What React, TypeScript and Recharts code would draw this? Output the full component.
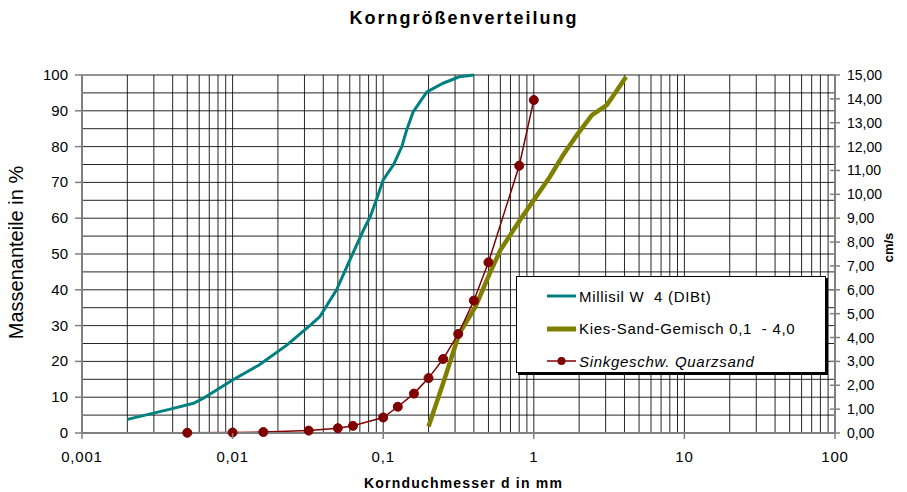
import React from 'react';
import { LineChart, Line, XAxis, YAxis, CartesianGrid, Legend } from 'recharts';

// Korngrößenverteilung – grain size distribution with settling velocity
const millisilD = [0.002, 0.0038, 0.0055, 0.0064, 0.01, 0.015, 0.023, 0.033, 0.038, 0.049, 0.06, 0.074, 0.082, 0.09, 0.1, 0.117, 0.133, 0.143, 0.158, 0.195, 0.25, 0.32, 0.4];
const millisilP = [3.8, 6.6, 8.3, 9.7, 14.8, 19, 24.6, 30.2, 32.5, 40, 48.3, 56.7, 60.4, 65.1, 70.7, 74.9, 80, 84.6, 89.7, 95.3, 97.7, 99.5, 100];

const kiesD = [0.2, 0.25, 0.32, 0.41, 0.51, 0.6, 0.81, 1.02, 1.28, 1.57, 1.93, 2.43, 3.05, 3.46, 4.1];
const kiesP = [1.8, 13.9, 27.8, 35.3, 44.6, 51.1, 59.5, 65.6, 71.6, 77.7, 83.2, 88.8, 91.6, 94.9, 99.5];

const sinkD = [0.005, 0.01, 0.016, 0.032, 0.05, 0.063, 0.1, 0.125, 0.16, 0.2, 0.25, 0.315, 0.4, 0.5, 0.8, 1.0];
const sinkV = [0.01, 0.02, 0.04, 0.1, 0.2, 0.3, 0.65, 1.1, 1.65, 2.3, 3.1, 4.15, 5.55, 7.15, 11.2, 13.95];

const xDecades = [0.001, 0.01, 0.1, 1, 10, 100];
const xTickLabels = ['0,001', '0,01', '0,1', '1', '10', '100'];
const leftTicks = [0, 5, 10, 15, 20, 25, 30, 35, 40, 45, 50, 55, 60, 65, 70, 75, 80, 85, 90, 95, 100];
const rightTicks = [0, 1, 2, 3, 4, 5, 6, 7, 8, 9, 10, 11, 12, 13, 14, 15];

const seriesNames = ['Millisil W  4 (DIBt)', 'Kies-Sand-Gemisch 0,1  - 4,0', 'Sinkgeschw. Quarzsand'];

const millisilData = millisilD.map((d, i) => ({ d, p: millisilP[i] }));
const kiesData = kiesD.map((d, i) => ({ d, p: kiesP[i] }));
const sinkData = sinkD.map((d, i) => ({ d, v: sinkV[i] }));

// all 1..9 multiples of each decade, for the log grid
const xGridTicks = xDecades
  .slice(0, -1)
  .flatMap((dec) => [1, 2, 3, 4, 5, 6, 7, 8, 9].map((m) => m * dec))
  .concat([100]);

const FONT = '"Liberation Sans", Arial, sans-serif';
const AXIS = '#808080';

const XTick = (props: any) => {
  const { x, y, payload } = props;
  const i = xDecades.findIndex((v) => Math.abs(v - payload.value) / v < 1e-6);
  if (i < 0) return null;
  return (
    <g>
      <line x1={x} x2={x} y1={y} y2={y + 6} stroke={AXIS} strokeWidth={1.5} />
      <text x={x} y={y + 29} textAnchor="middle" fontSize={15} letterSpacing={0.8} fontFamily={FONT} fill="#000">
        {xTickLabels[i]}
      </text>
    </g>
  );
};

const LeftTick = (props: any) => {
  const { x, y, payload } = props;
  if (payload.value % 10 !== 0) return null;
  return (
    <g>
      <line x1={x - 7} x2={x} y1={y} y2={y} stroke={AXIS} strokeWidth={1.5} />
      <text x={x - 14} y={y + 5} textAnchor="end" fontSize={15} fontFamily={FONT} fill="#000">
        {payload.value}
      </text>
    </g>
  );
};

const RightTick = (props: any) => {
  const { x, y, payload } = props;
  return (
    <g>
      <line x1={x - 5} x2={x + 5} y1={y} y2={y} stroke={AXIS} strokeWidth={1.5} />
      <text x={x + 12} y={y + 5} textAnchor="start" fontSize={14} fontFamily={FONT} fill="#000">
        {payload.value.toFixed(2).replace('.', ',')}
      </text>
    </g>
  );
};

const LegendBox = () => {
  const rows = [
    { color: '#008080', width: 3, dot: false, italic: false },
    { color: '#808000', width: 5, dot: false, italic: false },
    { color: '#800000', width: 1.5, dot: true, italic: true },
  ];
  return (
    <div
      style={{
        width: 310,
        height: 97,
        background: '#fff',
        border: '1px solid #000',
        boxShadow: '2px 2px 0 #000',
        fontFamily: FONT,
        fontSize: 15,
        letterSpacing: 0.7,
        boxSizing: 'border-box',
        paddingTop: 3,
      }}
    >
      {rows.map((r, i) => (
        <div key={i} style={{ display: 'flex', alignItems: 'center', height: 32.5 }}>
          <svg width={32} height={12} style={{ marginLeft: 29, marginRight: 1 }}>
            <line x1={1} x2={30} y1={6} y2={6} stroke={r.color} strokeWidth={r.width} />
            {r.dot && <circle cx={15.5} cy={6} r={4} fill={r.color} />}
          </svg>
          <span style={{ fontStyle: r.italic ? 'italic' : 'normal', whiteSpace: 'pre' }}>{seriesNames[i]}</span>
        </div>
      ))}
    </div>
  );
};

export default function App() {
  return (
    <div style={{ position: 'relative', width: 899, height: 484, background: '#fff' }}>
      <div
        style={{
          position: 'absolute',
          left: 0,
          width: 912,
          top: 0,
          textAlign: 'center',
          fontFamily: FONT,
          fontWeight: 'bold',
          fontSize: 18,
          letterSpacing: 2,
        }}
      >
        Korngrößenverteilung
      </div>
      <LineChart width={899} height={484} margin={{ top: 67, right: 0, bottom: 0, left: 0 }}>
        <CartesianGrid yAxisId="left" stroke="#000" strokeWidth={1} strokeOpacity={0.85} />
        <XAxis
          dataKey="d"
          type="number"
          scale="log"
          domain={[0.001, 100]}
          allowDataOverflow
          ticks={xGridTicks}
          interval={0}
          height={59}
          tickSize={0}
          tickMargin={0}
          tickLine={false}
          axisLine={{ stroke: AXIS, strokeWidth: 2 }}
          tick={<XTick />}
        />
        <YAxis
          yAxisId="left"
          type="number"
          domain={[0, 100]}
          ticks={leftTicks}
          interval={0}
          width={74}
          tickSize={0}
          tickMargin={0}
          tickLine={false}
          axisLine={{ stroke: AXIS, strokeWidth: 2 }}
          tick={<LeftTick />}
        />
        <YAxis
          yAxisId="right"
          orientation="right"
          type="number"
          domain={[0, 15]}
          ticks={rightTicks}
          interval={0}
          width={72}
          tickSize={0}
          tickMargin={0}
          tickLine={false}
          axisLine={{ stroke: AXIS, strokeWidth: 2 }}
          tick={<RightTick />}
        />
        <Legend
          layout="horizontal"
          verticalAlign="middle"
          align="center"
          wrapperStyle={{ left: 508, top: 268, width: 312 }}
          content={<LegendBox />}
        />
        <Line
          yAxisId="left"
          data={millisilData}
          dataKey="p"
          name={seriesNames[0]}
          type="linear"
          stroke="#008080"
          strokeWidth={3}
          dot={false}
          isAnimationActive={false}
        />
        <Line
          yAxisId="left"
          data={kiesData}
          dataKey="p"
          name={seriesNames[1]}
          type="linear"
          stroke="#808000"
          strokeWidth={4.5}
          dot={false}
          isAnimationActive={false}
        />
        <Line
          yAxisId="right"
          data={sinkData}
          dataKey="v"
          name={seriesNames[2]}
          type="linear"
          stroke="#800000"
          strokeWidth={1.5}
          dot={{ r: 4.5, fill: '#800000', stroke: '#800000', strokeWidth: 1 }}
          isAnimationActive={false}
        />
      </LineChart>
      <div
        style={{
          position: 'absolute',
          left: -92,
          top: 233,
          width: 200,
          textAlign: 'center',
          transform: 'rotate(-90deg)',
          fontFamily: FONT,
          fontSize: 20,
        }}
      >
        Massenanteile in %
      </div>
      <div
        style={{
          position: 'absolute',
          left: 780,
          top: 232,
          width: 200,
          textAlign: 'center',
          transform: 'rotate(-90deg)',
          fontFamily: FONT,
          fontWeight: 'bold',
          fontSize: 13,
        }}
      >
        cm/s
      </div>
      <div
        style={{
          position: 'absolute',
          left: 0,
          width: 911,
          top: 467,
          textAlign: 'center',
          fontFamily: FONT,
          fontWeight: 'bold',
          fontSize: 14,
          letterSpacing: 1.2,
        }}
      >
        Kornduchmesser d in mm
      </div>
    </div>
  );
}
